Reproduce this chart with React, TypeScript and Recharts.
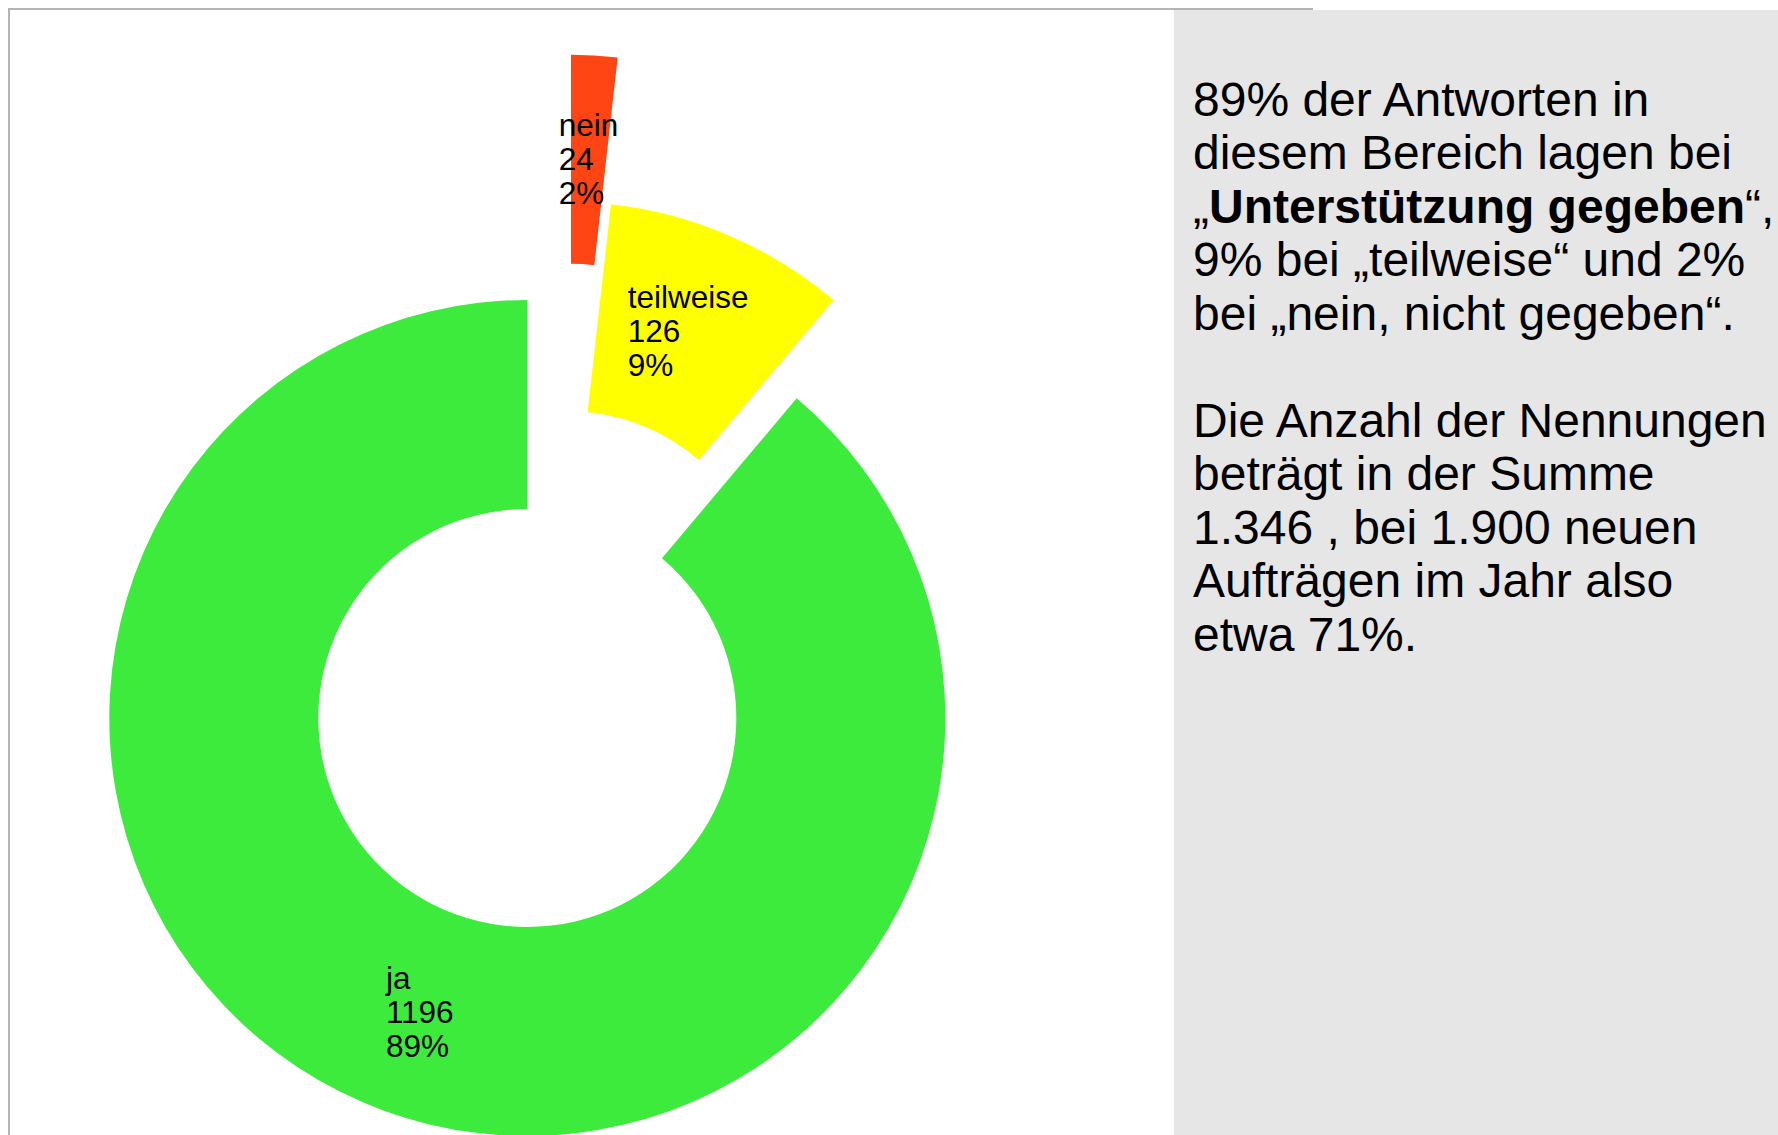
import React from 'react';
import { PieChart, Pie, Cell, Sector } from 'recharts';

// ---- data ----
const categories = ['ja', 'teilweise', 'nein'];
const counts = [1196, 126, 24];
const colors = ['#3deb3d', '#ffff00', '#ff4513'];
// explode settings (distance in px, direction in degrees)
const explodeDistance = [0, 105, 249];
const explodeDirection = [0, 69.4, 79.9];

const panelLines: React.ReactNode[] = [
  '89% der Antworten in',
  'diesem Bereich lagen bei',
  <>„<b>Unterstützung gegeben</b>“,</>,
  '9% bei „teilweise“ und 2%',
  'bei „nein, nicht gegeben“.',
  '\u00a0',
  'Die Anzahl der Nennungen',
  'beträgt in der Summe',
  '1.346 , bei 1.900 neuen',
  'Aufträgen im Jahr also',
  'etwa 71%.',
];

const data = categories.map((name, i) => ({ name, value: counts[i] }));
const total = counts.reduce((a, b) => a + b, 0);

const FONT = '"Liberation Sans", Arial, sans-serif';
const LABEL_SIZE = 31.5;
const LINE_H = 34;
const RAD = Math.PI / 180;

let ctx: CanvasRenderingContext2D | null = null;
function measure(s: string): number {
  try {
    if (!ctx) ctx = document.createElement('canvas').getContext('2d');
    if (ctx) {
      ctx.font = `${LABEL_SIZE}px "Liberation Sans"`;
      return ctx.measureText(s).width;
    }
  } catch (e) {}
  return s.length * LABEL_SIZE * 0.55;
}

function renderSlice(props: any) {
  const { cx, cy, innerRadius, outerRadius, startAngle, endAngle, midAngle, index } = props;
  const d = explodeDistance[index];
  const a = explodeDirection[index];
  const ox = cx + d * Math.cos(a * RAD);
  const oy = cy - d * Math.sin(a * RAD);
  const rMid = (innerRadius + outerRadius) / 2;
  const lx = ox + rMid * Math.cos(midAngle * RAD);
  const ly = oy - rMid * Math.sin(midAngle * RAD);
  const pct = Math.round((counts[index] / total) * 100) + '%';
  const lines = [categories[index], String(counts[index]), pct];
  const w = Math.max(...lines.map(measure));
  const x0 = lx - w / 2;
  const baseMid = ly + LABEL_SIZE * 0.33;
  return (
    <g key={`slice-${index}`}>
      <Sector
        cx={ox}
        cy={oy}
        innerRadius={innerRadius}
        outerRadius={outerRadius}
        startAngle={startAngle}
        endAngle={endAngle}
        fill={colors[index]}
        stroke="none"
      />
      <text fontFamily={FONT} fontSize={LABEL_SIZE} fill="#000">
        {lines.map((l, i) => (
          <tspan key={i} x={x0} y={baseMid + (i - 1) * LINE_H}>
            {l}
          </tspan>
        ))}
      </text>
    </g>
  );
}

export default function App() {
  return (
    <div
      style={{
        position: 'absolute',
        left: 0,
        top: 0,
        width: 1778,
        height: 1135,
        background: '#fff',
        overflow: 'hidden',
      }}
    >
      <div
        style={{
          position: 'absolute',
          left: 8,
          top: 8,
          width: 1303,
          height: 1300,
          borderTop: '2px solid #b4b4b4',
          borderLeft: '2px solid #b4b4b4',
        }}
      />
      <div style={{ position: 'absolute', left: 0, top: 0 }}>
        <PieChart width={1778} height={1135} margin={{ top: 0, right: 0, bottom: 0, left: 0 }}>
          <Pie
            data={data}
            dataKey="value"
            nameKey="name"
            cx={527.3}
            cy={718}
            innerRadius={209}
            outerRadius={418}
            startAngle={90}
            endAngle={450}
            stroke="none"
            isAnimationActive={false}
            label={renderSlice}
            labelLine={false}
          >
            {data.map((_, i) => (
              <Cell key={i} fill="transparent" stroke="none" />
            ))}
          </Pie>
        </PieChart>
      </div>
      <div
        style={{
          position: 'absolute',
          left: 1174,
          top: 10,
          right: 0,
          bottom: 0,
          background: '#e6e6e6',
        }}
      />
      <div
        style={{
          position: 'absolute',
          left: 1193,
          top: 72.6,
          fontFamily: FONT,
          fontSize: 48,
          lineHeight: '53.5px',
          color: '#000',
          whiteSpace: 'nowrap',
        }}
      >
        {panelLines.map((l, i) => (
          <div key={i}>{l}</div>
        ))}
      </div>
    </div>
  );
}
